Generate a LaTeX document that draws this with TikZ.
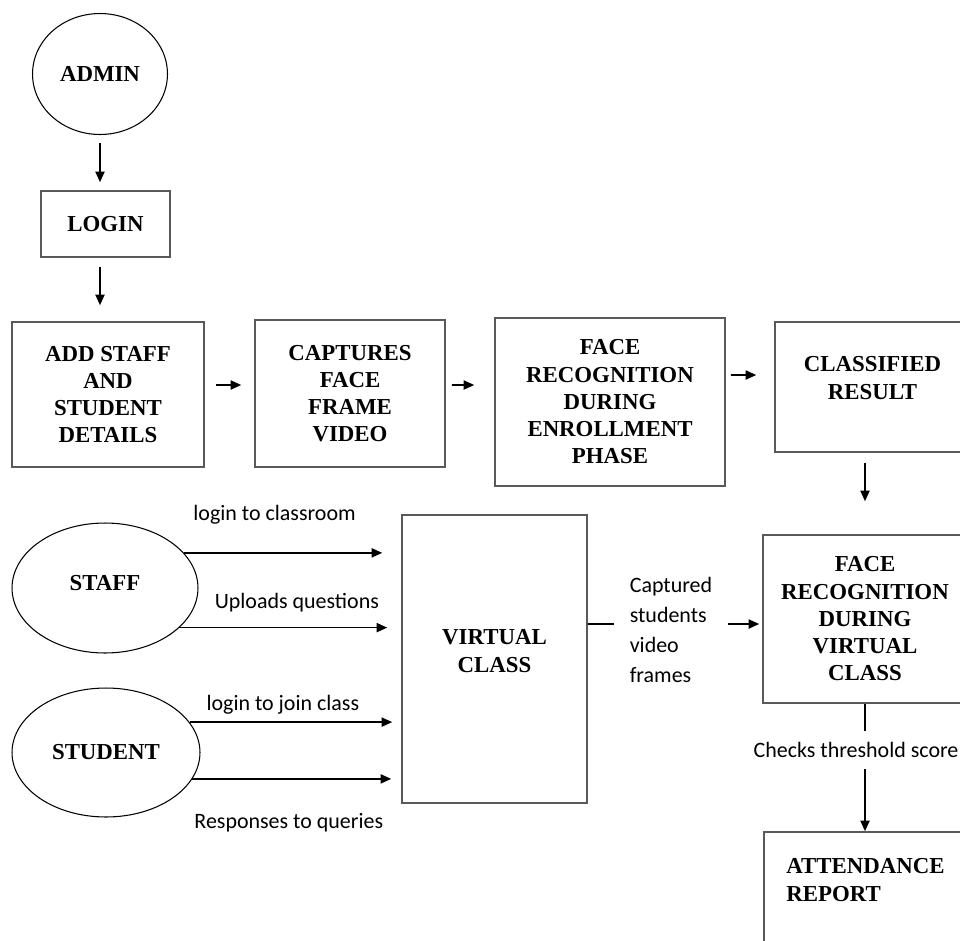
\documentclass[tikz,border=0pt]{standalone}
\usepackage{fontspec}
\setmainfont{Liberation Serif}
\newfontfamily\calibri{Carlito}
\usetikzlibrary{shapes.geometric,arrows.meta}

\begin{document}
\begin{tikzpicture}[x=0.02cm,y=-0.02cm,
  blk/.style={draw=black!65, line width=0.9pt, align=center, inner sep=0pt,
    font=\fontsize{13}{15.5}\selectfont\bfseries},
  oval/.style={ellipse, draw, line width=0.6pt, inner sep=0pt,
    font=\fontsize{13}{15.5}\selectfont\bfseries},
  arr/.style={-{Triangle[length=0.21cm,width=0.18cm]}, line width=1pt},
  lbl/.style={font=\calibri\fontsize{12.5}{17}\selectfont, inner sep=0pt}]
\useasboundingbox (0,0) rectangle (960,940);
\clip (0,0) rectangle (960,940);

% admin side
\node[oval, minimum width=2.7cm, minimum height=2.42cm] (admin) at (100,74) {ADMIN};
\node[blk, minimum width=2.58cm, minimum height=1.32cm] (login) at (105.5,224) {LOGIN};
\node[blk, minimum width=3.84cm, minimum height=2.9cm] (add) at (108,394.5) {ADD STAFF\\AND\\STUDENT\\DETAILS};
\node[blk, minimum width=3.8cm, minimum height=2.94cm] (capt) at (350,393.5) {CAPTURES\\FACE\\FRAME\\VIDEO};
\node[blk, minimum width=4.6cm, minimum height=3.36cm] (enroll) at (610,402) {FACE\\RECOGNITION\\DURING\\ENROLLMENT\\PHASE};
\node[blk, minimum width=3.9cm, minimum height=2.6cm, text depth=0.36cm] (classified) at (872.5,387) {CLASSIFIED\\RESULT};

% class side
\node[oval, minimum width=3.72cm, minimum height=2.6cm, text depth=0.2cm] (staff) at (105,588) {STAFF};
\node[oval, minimum width=3.76cm, minimum height=2.58cm] (student) at (106,752.5) {STUDENT};
\node[blk, minimum width=3.7cm, minimum height=5.76cm, text depth=0.32cm] (vclass) at (494.5,659) {VIRTUAL\\CLASS};
\node[blk, minimum width=4.08cm, minimum height=3.36cm] (facevc) at (865,619) {FACE\\RECOGNITION\\DURING\\VIRTUAL\\CLASS};
\node[blk, align=left, minimum width=4.06cm, minimum height=2.56cm, text depth=0.64cm] (attend) at (865.5,896) {ATTENDANCE\\REPORT};

% enrollment flow
\draw[arr, shorten <=0.16cm, shorten >=0.16cm] (admin.south) -- (admin.south |- login.north);
\draw[arr, shorten <=0.18cm, shorten >=0.32cm] (admin.south |- login.south) -- (admin.south |- add.north);
\draw[arr, shorten <=0.22cm, shorten >=0.26cm] ([yshift=0.19cm]add.east) -- ([yshift=0.17cm]capt.west);
\draw[arr, shorten <=0.12cm, shorten >=0.4cm] ([yshift=0.17cm]capt.east) -- ([yshift=0.34cm]enroll.west);
\draw[arr, shorten <=0.1cm, shorten >=0.36cm] ([yshift=0.54cm]enroll.east) -- ([yshift=0.24cm]classified.west);
\draw[arr, shorten <=0.2cm, shorten >=0.66cm] (facevc.north |- classified.south) -- (facevc.north);

% virtual class flow
\draw[arr, shorten >=0.38cm] (staff.24) -- (staff.24 -| vclass.west)
  node[lbl, midway, xshift=-0.36cm, yshift=0.76cm] {login to classroom};
\draw[arr, shorten >=0.28cm] (staff.-28) -- (staff.-28 -| vclass.west)
  node[lbl, midway, xshift=0.13cm, yshift=0.5cm] {Uploads questions};
\draw[arr, shorten >=0.18cm] (student.20) -- (student.20 -| vclass.west)
  node[lbl, midway, xshift=-0.25cm, yshift=0.34cm] {login to join class};
\draw[arr, shorten >=0.2cm] (student.-17) -- (student.-17 -| vclass.west)
  node[lbl, midway, xshift=-0.16cm, yshift=-0.88cm] {Responses to queries};
\draw[arr, shorten >=0.06cm] ([yshift=0.7cm]vclass.east) -- ([yshift=-0.1cm]facevc.west)
  node[lbl, pos=0.477, fill=white, align=left, inner xsep=0.32cm, yshift=-0.12cm] {Captured\\students\\video\\frames};
\draw[arr] (facevc.south) -- (facevc.south |- attend.north)
  node[lbl, pos=0.364, fill=white, inner ysep=0.22cm, xshift=-0.18cm] {Checks threshold score};
\end{tikzpicture}
\end{document}
